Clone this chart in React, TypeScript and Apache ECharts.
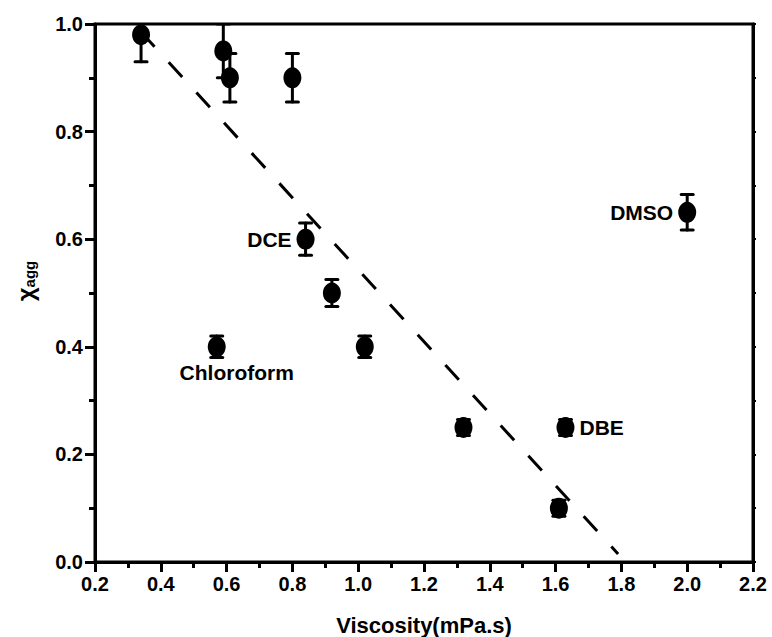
import React, { useEffect, useRef } from "react";
import * as echarts from "echarts";

const xVals = [0.34, 0.59, 0.61, 0.8, 0.84, 0.92, 0.57, 1.02, 1.32, 1.61, 1.63, 2.0];
const yVals = [0.98, 0.95, 0.9, 0.9, 0.6, 0.5, 0.4, 0.4, 0.25, 0.1, 0.25, 0.65];
const yErr = [0.05, 0.05, 0.045, 0.045, 0.03, 0.025, 0.02, 0.02, 0.015, 0.015, 0.015, 0.033];
const pointLabels = ["", "", "", "", "DCE", "", "Chloroform", "", "", "", "DBE", "DMSO"];
const labelPos = ["", "", "", "", "left", "", "bottom", "", "", "", "right", "left"];
const fitLine = [
  [0.34, 0.985],
  [1.79, 0.015],
];
const xTickLabels = ["0.2", "0.4", "0.6", "0.8", "1.0", "1.2", "1.4", "1.6", "1.8", "2.0", "2.2"];
const yTickLabels = ["0.0", "0.2", "0.4", "0.6", "0.8", "1.0"];

const FONT = "'Liberation Sans', Arial, sans-serif";

export default function App() {
  const ref = useRef<HTMLDivElement>(null);
  useEffect(() => {
    if (!ref.current) return;
    const chart = echarts.init(ref.current, undefined, { renderer: "svg" });
    const errData = xVals.map((x, i) => [x, yVals[i] - yErr[i], yVals[i] + yErr[i]]);
    const scatterData = xVals.map((x, i) => {
      const item: any = { value: [x, yVals[i]] };
      if (pointLabels[i]) {
        item.label = {
          show: true,
          formatter: pointLabels[i],
          position: labelPos[i],
          distance: 5,
          offset: labelPos[i] === "bottom" ? [20, 0] : [0, 0],
          color: "#000",
          fontFamily: FONT,
          fontWeight: "bold",
          fontSize: 21,
        };
      }
      return item;
    });
    const axisCommonLabel = {
      color: "#000",
      fontFamily: FONT,
      fontWeight: "bold" as const,
      fontSize: 20,
    };
    chart.setOption({
      animation: false,
      backgroundColor: "#fff",
      grid: {
        left: 95,
        right: 19,
        top: 24,
        bottom: 75,
        show: true,
        borderColor: "#000",
        borderWidth: 3,
        backgroundColor: "transparent",
        outerBoundsMode: "none",
        containLabel: false,
      },
      xAxis: [
        {
          type: "value",
          min: 0.2,
          max: 2.2,
          interval: 0.2,
          name: "Viscosity(mPa.s)",
          nameLocation: "middle",
          nameGap: 52,
          nameTextStyle: { color: "#000", fontFamily: FONT, fontWeight: "bold", fontSize: 22 },
          axisLine: { show: true, onZero: false, lineStyle: { color: "#000", width: 3 } },
          axisTick: { show: true, inside: false, length: 10, lineStyle: { color: "#000", width: 3 } },
          minorTick: { show: true, splitNumber: 2, length: 6, lineStyle: { color: "#000", width: 3 } },
          splitLine: { show: false },
          axisLabel: {
            ...axisCommonLabel,
            margin: 12,
            formatter: (v: number) => xTickLabels[Math.round((v - 0.2) / 0.2)] ?? "",
          },
        },
      ],
      yAxis: [
        {
          type: "value",
          min: 0,
          max: 1,
          interval: 0.2,
          name: "{c|χ}{s|agg}",
          nameLocation: "middle",
          nameGap: 58,
          nameRotate: 90,
          nameTextStyle: {
            padding: [0, 0, 0, 24],
            rich: {
              c: { fontFamily: FONT, fontSize: 24, color: "#000", fontWeight: "bold" },
              s: {
                fontFamily: FONT,
                fontSize: 15,
                color: "#000",
                fontWeight: "bold",
                verticalAlign: "bottom",
                padding: [8, 0, 0, 0],
              },
            },
          },
          axisLine: { show: true, onZero: false, lineStyle: { color: "#000", width: 3 } },
          axisTick: { show: true, inside: false, length: 10, lineStyle: { color: "#000", width: 3 } },
          minorTick: { show: true, splitNumber: 2, length: 6, lineStyle: { color: "#000", width: 3 } },
          splitLine: { show: false },
          axisLabel: {
            ...axisCommonLabel,
            margin: 12,
            formatter: (v: number) => yTickLabels[Math.round(v / 0.2)] ?? "",
          },
        },
        {
          type: "value",
          position: "right",
          min: 0,
          max: 1,
          interval: 0.1,
          axisLine: { show: true, onZero: false, lineStyle: { color: "#000", width: 3 } },
          axisTick: { show: true, inside: false, length: 3, lineStyle: { color: "#000", width: 2 } },
          axisLabel: { show: false },
          splitLine: { show: false },
        },
      ],
      series: [
        {
          type: "line",
          data: fitLine,
          symbol: "none",
          lineStyle: { color: "#000", width: 3, type: [20, 21] },
          z: 1,
        },
        {
          type: "custom",
          data: errData,
          clip: true,
          z: 2,
          renderItem: (params: any, api: any) => {
            const x = api.value(0);
            const lo = api.coord([x, api.value(1)]);
            const hi = api.coord([x, api.value(2)]);
            const hw = 6;
            const st = { stroke: "#000", lineWidth: 3, lineCap: "round" };
            return {
              type: "group",
              children: [
                { type: "line", shape: { x1: lo[0], y1: lo[1], x2: hi[0], y2: hi[1] }, style: st },
                { type: "line", shape: { x1: lo[0] - hw, y1: lo[1], x2: lo[0] + hw, y2: lo[1] }, style: st },
                { type: "line", shape: { x1: hi[0] - hw, y1: hi[1], x2: hi[0] + hw, y2: hi[1] }, style: st },
              ],
            };
          },
        },
        {
          type: "scatter",
          data: scatterData,
          symbol: "circle",
          symbolSize: [18, 21],
          itemStyle: { color: "#000", opacity: 1 },
          z: 3,
        },
      ],
    });
    return () => chart.dispose();
  }, []);
  return <div ref={ref} style={{ position: "fixed", left: 0, top: 0, width: 772, height: 637 }} />;
}
